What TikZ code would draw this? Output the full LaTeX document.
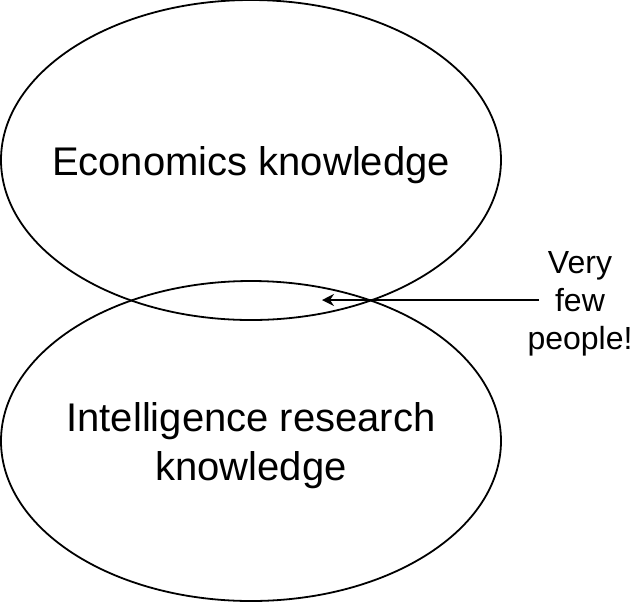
\documentclass[tikz,border=0pt]{standalone}
\usepackage{fontspec}
\setmainfont{Liberation Sans}
\usepackage{tikz}
\usetikzlibrary{arrows.meta, positioning, shapes.geometric}

\begin{document}
\begin{tikzpicture}[
      x=0.5pt, y=-0.5pt,
      field/.style={ellipse, draw, line width=0.9pt, inner sep=0pt,
        minimum width=250pt, minimum height=160pt},
      fieldtext/.style={inner sep=0pt, align=center, yshift=-2.5pt,
        font=\fontsize{20}{24.5}\selectfont},
      remark/.style={inner sep=0pt, align=center, yshift=-1.5pt,
        font=\fontsize{16}{19}\selectfont},
      pointer/.style={-{Stealth[length=6pt, width=6pt, inset=2pt]}, line width=0.9pt}
    ]
      \useasboundingbox (0,0) rectangle (634,602);
      \node[field] (econ) at (251,160) {};
      \node[field] (intel) at (251,441) {};
      \node[fieldtext] (econlabel) at (econ.center) {Economics knowledge};
      \node[fieldtext] (intellabel) at (intel.center) {Intelligence research\\knowledge};
      \node[remark] (note) at (580,301) {Very\\few\\people!};
      \coordinate (overlap) at (322,300);
      \draw[pointer] ([xshift=6pt]note.west |- overlap) -- (overlap);
    \end{tikzpicture}
\end{document}
